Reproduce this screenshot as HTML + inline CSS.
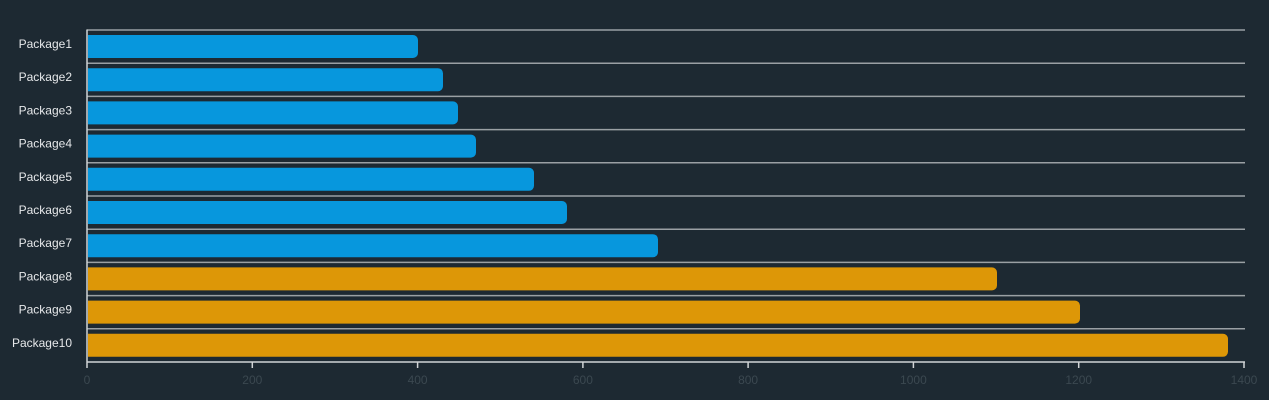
<!DOCTYPE html>
<html><head><meta charset="utf-8"><style>
html,body{margin:0;padding:0;background:#1d2932;}
svg{display:block;}
text{font-family:"Liberation Sans",sans-serif;}
</style></head><body>
<svg width="1269" height="400" viewBox="0 0 1269 400" xmlns="http://www.w3.org/2000/svg">
<rect width="1269" height="400" fill="#1d2932"/>
<g stroke="#9aa0a4" stroke-width="1.5">
<line x1="87" y1="30" x2="1245" y2="30"/>
<line x1="87" y1="63.2" x2="1245" y2="63.2"/>
<line x1="87" y1="96.4" x2="1245" y2="96.4"/>
<line x1="87" y1="129.6" x2="1245" y2="129.6"/>
<line x1="87" y1="162.8" x2="1245" y2="162.8"/>
<line x1="87" y1="196" x2="1245" y2="196"/>
<line x1="87" y1="229.2" x2="1245" y2="229.2"/>
<line x1="87" y1="262.4" x2="1245" y2="262.4"/>
<line x1="87" y1="295.6" x2="1245" y2="295.6"/>
<line x1="87" y1="328.8" x2="1245" y2="328.8"/>
</g>
<g>
<path d="M88 35 H413 a5 5 0 0 1 5 5 V53 a5 5 0 0 1 -5 5 H88 Z" fill="#0797dd"/>
<path d="M88 68.2 H438 a5 5 0 0 1 5 5 V86.2 a5 5 0 0 1 -5 5 H88 Z" fill="#0797dd"/>
<path d="M88 101.4 H453 a5 5 0 0 1 5 5 V119.4 a5 5 0 0 1 -5 5 H88 Z" fill="#0797dd"/>
<path d="M88 134.6 H471 a5 5 0 0 1 5 5 V152.6 a5 5 0 0 1 -5 5 H88 Z" fill="#0797dd"/>
<path d="M88 167.8 H529 a5 5 0 0 1 5 5 V185.8 a5 5 0 0 1 -5 5 H88 Z" fill="#0797dd"/>
<path d="M88 201 H562 a5 5 0 0 1 5 5 V219 a5 5 0 0 1 -5 5 H88 Z" fill="#0797dd"/>
<path d="M88 234.2 H653 a5 5 0 0 1 5 5 V252.2 a5 5 0 0 1 -5 5 H88 Z" fill="#0797dd"/>
<path d="M88 267.4 H992 a5 5 0 0 1 5 5 V285.4 a5 5 0 0 1 -5 5 H88 Z" fill="#dd9707"/>
<path d="M88 300.6 H1075 a5 5 0 0 1 5 5 V318.6 a5 5 0 0 1 -5 5 H88 Z" fill="#dd9707"/>
<path d="M88 333.8 H1223 a5 5 0 0 1 5 5 V351.8 a5 5 0 0 1 -5 5 H88 Z" fill="#dd9707"/>
</g>
<g stroke="#d0d4d6" stroke-width="1.5">
<line x1="87" y1="29.5" x2="87" y2="368"/>
<line x1="87" y1="362" x2="1245" y2="362"/>
<line x1="252.3" y1="362" x2="252.3" y2="368"/>
<line x1="417.6" y1="362" x2="417.6" y2="368"/>
<line x1="582.9" y1="362" x2="582.9" y2="368"/>
<line x1="748.1" y1="362" x2="748.1" y2="368"/>
<line x1="913.4" y1="362" x2="913.4" y2="368"/>
<line x1="1078.7" y1="362" x2="1078.7" y2="368"/>
<line x1="1244" y1="362" x2="1244" y2="368"/>
</g>
<g font-size="12" fill="#e6e8ea" text-anchor="end">
<text x="72" y="48">Package1</text>
<text x="72" y="81.2">Package2</text>
<text x="72" y="114.4">Package3</text>
<text x="72" y="147.6">Package4</text>
<text x="72" y="180.8">Package5</text>
<text x="72" y="214">Package6</text>
<text x="72" y="247.2">Package7</text>
<text x="72" y="280.4">Package8</text>
<text x="72" y="313.6">Package9</text>
<text x="72" y="346.8">Package10</text>
</g>
<g font-size="12" fill="#3b4850" text-anchor="middle">
<text x="87" y="384">0</text>
<text x="252.3" y="384">200</text>
<text x="417.6" y="384">400</text>
<text x="582.9" y="384">600</text>
<text x="748.1" y="384">800</text>
<text x="913.4" y="384">1000</text>
<text x="1078.7" y="384">1200</text>
<text x="1244" y="384">1400</text>
</g>
</svg>
</body></html>
